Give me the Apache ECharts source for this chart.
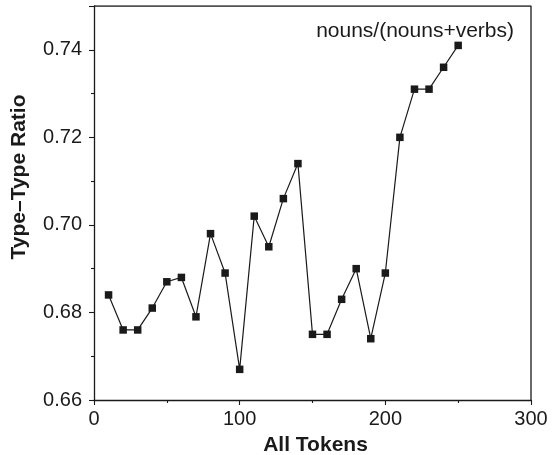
<!DOCTYPE html>
<html>
<head>
<meta charset="utf-8">
<style>
  html, body { margin: 0; padding: 0; background: #fff; }
  #chart { width: 556px; height: 455px; }
</style>
<script src="https://cdn.jsdelivr.net/npm/echarts@6/dist/echarts.min.js"></script>
</head>
<body>
<div id="chart"></div>
<script>
// Sample sizes (tokens) and the noun share among nouns+verbs
const tokens = [10, 20, 30, 40, 50, 60, 70, 80, 90, 100, 110, 120, 130, 140, 150,
                160, 170, 180, 190, 200, 210, 220, 230, 240, 250];
const ratio = [0.684, 0.676, 0.676, 0.681, 0.687, 0.688, 0.679, 0.698, 0.689, 0.667,
               0.702, 0.695, 0.706, 0.714, 0.675, 0.675, 0.683, 0.690, 0.674, 0.689,
               0.720, 0.731, 0.731, 0.736, 0.741];
const seriesLabel = 'nouns/(nouns+verbs)';
const xTitle = 'All Tokens';
const yTitle = 'Type\u2013Type Ratio';

const FONT = '"Liberation Sans", Arial, Helvetica, sans-serif';
const INK = '#1a1a1a';

const chart = echarts.init(document.getElementById('chart'), null, { renderer: 'canvas' });

const axisCommon = {
  axisLine: { show: true, onZero: false, lineStyle: { color: INK, width: 1.3 } },
  axisTick: { show: true, inside: false, length: 5, lineStyle: { color: INK, width: 1.1 } },
  minorTick: { show: true, splitNumber: 2, length: 3, lineStyle: { color: INK, width: 1.1 } },
  splitLine: { show: false }
};

chart.setOption({
  animation: false,
  backgroundColor: '#fff',
  grid: { left: 94, right: 25, top: 6, bottom: 55, containLabel: false, outerBoundsMode: 'none' },
  title: {
    text: seriesLabel,
    right: 37, top: 16,
    textStyle: { fontFamily: FONT, fontWeight: 'normal', fontSize: 21, color: INK }
  },
  graphic: [{
    // vertical axis title
    type: 'text',
    x: 19, y: 177, rotation: Math.PI / 2,
    style: {
      text: yTitle, fill: INK, align: 'center', verticalAlign: 'middle',
      font: 'bold 21px ' + FONT
    }
  }],
  xAxis: Object.assign({}, axisCommon, {
    type: 'value',
    min: 0, max: 300, interval: 100,
    name: xTitle, nameLocation: 'middle', nameGap: 35,
    nameTextStyle: { fontFamily: FONT, fontWeight: 'bold', fontSize: 21, color: INK, padding: [0, 0, 0, 6] },
    axisLabel: { fontFamily: FONT, fontSize: 20, color: INK, margin: 9 }
  }),
  yAxis: Object.assign({}, axisCommon, {
    type: 'value',
    min: 0.66, max: 0.75, interval: 0.02,
    axisLabel: {
      fontFamily: FONT, fontSize: 20, color: INK, margin: 12,
      formatter: v => (v > 0.745 ? '' : v.toFixed(2))
    }
  }),
  series: [
    // frame: top and right edges of the plot box
    {
      type: 'line', silent: true, symbol: 'none',
      data: [[0, 0.75], [300, 0.75], [300, 0.66]],
      lineStyle: { color: INK, width: 1.3 }
    },
    {
      type: 'line',
      data: tokens.map((t, i) => [t, ratio[i]]),
      symbol: 'rect', symbolSize: 7.5,
      itemStyle: { color: INK },
      lineStyle: { color: INK, width: 1.2 }
    }
  ]
});
</script>
</body>
</html>
